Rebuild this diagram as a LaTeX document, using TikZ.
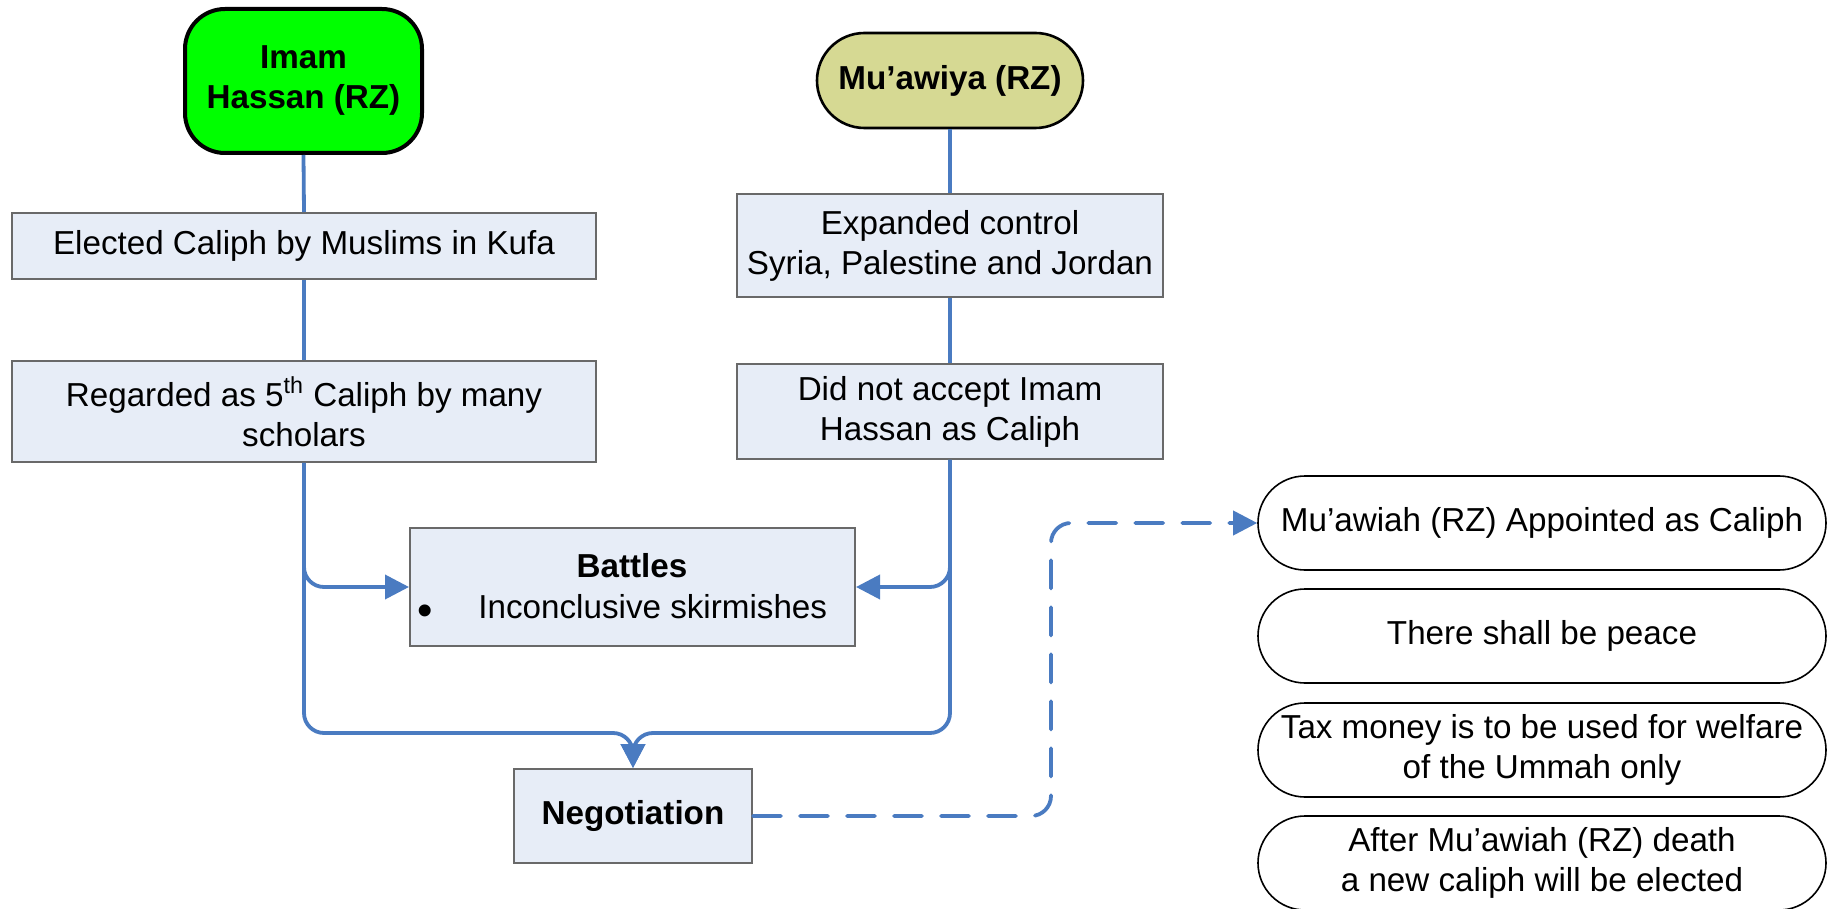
\documentclass[tikz,border=0pt]{standalone}
\usepackage{fontspec}
\setmainfont{Liberation Sans}
\usetikzlibrary{arrows.meta}
\definecolor{conncol}{RGB}{74,123,193}
\definecolor{boxfill}{RGB}{231,237,247}
\definecolor{boxline}{RGB}{105,105,105}
\definecolor{khaki}{RGB}{214,217,147}
\newcommand\diagfont{\fontsize{16.6}{20}\selectfont}
\begin{document}
\begin{tikzpicture}[x=0.5pt,y=-0.5pt,
  fbox/.style={draw=boxline, line width=1pt, fill=boxfill, align=center, inner sep=0pt, font=\diagfont},
  pill/.style={draw=black, line width=0.8pt, fill=white, align=center, inner sep=0pt, font=\diagfont,
     minimum width=284pt, minimum height=47pt, rounded corners=23.5pt},
  conn/.style={draw=conncol, line width=1.9pt},
  arr/.style={-{Triangle[length=12pt,width=12pt]}},
  lbl/.style={inner sep=0pt, font=\diagfont}]
\useasboundingbox (0,0) rectangle (1833,909);
\fill[white] (0,0) rectangle (1833,909);

% top nodes
\node[fbox, draw=black, line width=2pt, fill=green, rounded corners=20pt,
  minimum width=118.5pt, minimum height=72pt, font=\diagfont\bfseries] (imam) at (303.5,81) {Imam\\Hassan (RZ)};
\node[fbox, draw=black, line width=1.3pt, fill=khaki, rounded corners=23.75pt,
  minimum width=133pt, minimum height=47.5pt, font=\diagfont\bfseries] (muaw) at (950,80.5) {Mu’awiya (RZ)};

% left column
\node[fbox, minimum width=292pt, minimum height=33pt] (elect) at (304,246) {Elected Caliph by Muslims in Kufa};
\node[fbox, minimum width=292pt, minimum height=50.5pt] (regard) at (304,411.5) {Regarded as 5\textsuperscript{th} Caliph by many\\scholars};

% right column
\node[fbox, minimum width=213pt, minimum height=51.5pt] (expand) at (950,245.5) {Expanded control\\Syria, Palestine and Jordan};
\node[fbox, minimum width=213pt, minimum height=47.5pt] (didnot) at (950,411.5) {Did not accept Imam\\Hassan as Caliph};

% battles
\node[fbox, minimum width=222.5pt, minimum height=59pt] (battles) at (632.5,587) {};
\node[lbl, font=\diagfont\bfseries] (btitle) at (632,566) {Battles};
\node[lbl, font=\fontsize{22}{24}\selectfont] (bdot) at (425,615) {•};
\node[lbl, anchor=west] (bitem) at (478,607) {Inconclusive skirmishes};

% negotiation
\node[fbox, minimum width=119pt, minimum height=47pt, font=\diagfont\bfseries] (nego) at (633,816) {Negotiation};

% right pills
\node[pill] (r1) at (1542,523) {Mu’awiah (RZ) Appointed as Caliph};
\node[pill] (r2) at (1542,636) {There shall be peace};
\node[pill] (r3) at (1542,750) {Tax money is to be used for welfare\\of the Ummah only};
\node[pill] (r4) at (1542,863) {After Mu’awiah (RZ) death\\a new caliph will be elected};

% connectors
\draw[conn] (imam.south) -- (elect.north);
\draw[conn] (elect.south) -- (regard.north);
\draw[conn] (muaw.south) -- (expand.north);
\draw[conn] (expand.south) -- (didnot.north);

\draw[conn, arr, rounded corners=10pt] (regard.south) |- (battles.west);
\draw[conn, arr, rounded corners=10pt] (didnot.south) |- (battles.east);

\coordinate (mergeL) at (304,733);
\coordinate (mergeR) at (950,733);
\coordinate (merge) at (633,733);
\draw[conn, arr, rounded corners=10pt] (regard.south) -- (mergeL) -- (merge) -- (nego.north);
\draw[conn, arr, rounded corners=10pt] (didnot.south) -- (mergeR) -- (merge) -- (nego.north);

\coordinate (dlow) at (1051,816);
\coordinate (dhigh) at (1051,523);
\draw[conn, arr, line cap=round, dash pattern=on 14pt off 9.5pt, rounded corners=10pt]
  (nego.east) -- (dlow) -- (dhigh) -- (r1.west);
\end{tikzpicture}
\end{document}
